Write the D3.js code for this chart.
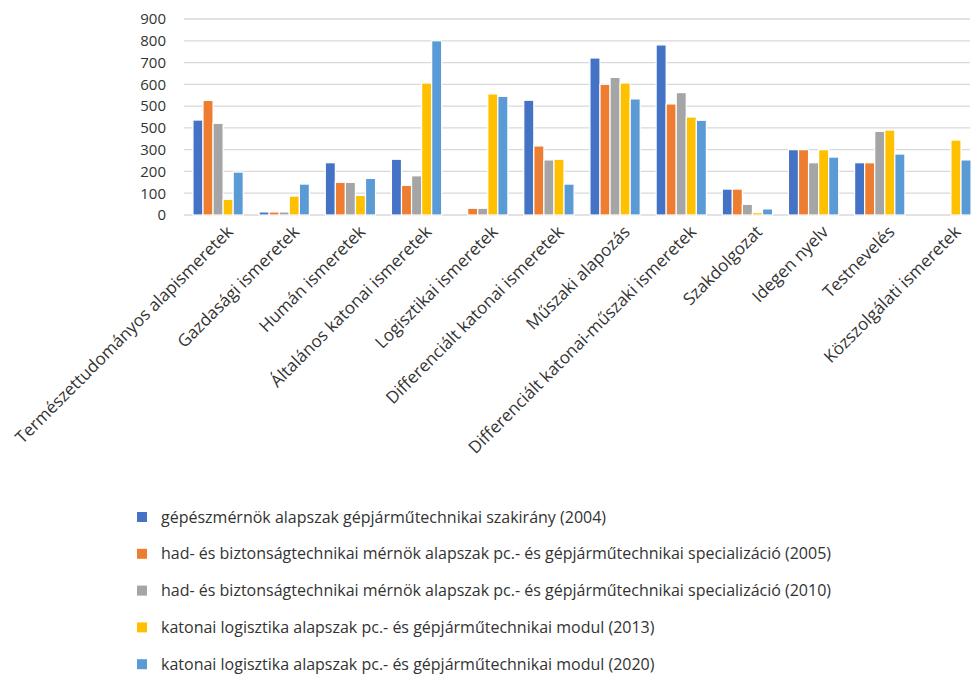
<!DOCTYPE html>
<html>
<head>
<meta charset="utf-8">
<script src="https://cdn.jsdelivr.net/npm/d3@7"></script>
<style>
  body { margin: 0; background: #fff; }
  svg text { font-family: "Open Sans", sans-serif; fill: #333333; }
</style>
</head>
<body>
<svg id="chart" width="972" height="674"></svg>
<script>
var categories = [
    "Természettudományos alapismeretek",
    "Gazdasági ismeretek",
    "Humán ismeretek",
    "Általános katonai ismeretek",
    "Logisztikai ismeretek",
    "Differenciált katonai ismeretek",
    "Műszaki alapozás",
    "Differenciált katonai-műszaki ismeretek",
    "Szakdolgozat",
    "Idegen nyelv",
    "Testnevelés",
    "Közszolgálati ismeretek"
];
var seriesNames = [
    "gépészmérnök alapszak gépjárműtechnikai szakirány (2004)",
    "had- és biztonságtechnikai mérnök alapszak pc.- és gépjárműtechnikai specializáció (2005)",
    "had- és biztonságtechnikai mérnök alapszak pc.- és gépjárműtechnikai specializáció (2010)",
    "katonai logisztika alapszak pc.- és gépjárműtechnikai modul (2013)",
    "katonai logisztika alapszak pc.- és gépjárműtechnikai modul (2020)"
];
var colors = ["#4472c4", "#ed7d31", "#a5a5a5", "#ffc000", "#5b9bd5"];

var s2004 = [436, 14, 240, 256, 0, 527, 721, 781, 119, 300, 240, 0];
var s2005 = [526, 14, 150, 136, 31, 317, 600, 510, 119, 300, 240, 0];
var s2010 = [421, 14, 150, 180, 31, 253, 632, 562, 49, 240, 384, 0];
var s2013 = [72, 87, 90, 606, 556, 256, 606, 450, 11, 300, 390, 344];
var s2020 = [197, 142, 168, 800, 545, 142, 533, 435, 28, 266, 280, 253];
var seriesValues = [s2004, s2005, s2010, s2013, s2020];

// tick labels as printed on the original (the 400 line is labelled 500)
var tickValues = [0, 100, 200, 300, 400, 500, 600, 700, 800, 900];
var tickLabels = ["0", "100", "200", "300", "500", "500", "600", "700", "800", "900"];

var svg = d3.select("#chart");
var plotLeft = 184, plotRight = 970, plotTop = 19, plotBottom = 215;

var x = d3.scaleBand().domain(categories).range([plotLeft + 1, plotRight + 9]).paddingInner(0.24).paddingOuter(0.12);
var xs = d3.scaleBand().domain(d3.range(seriesNames.length)).range([0, x.bandwidth()]);
var y = d3.scaleLinear().domain([0, 900]).range([plotBottom, plotTop]);

// gridlines
svg.append("g").selectAll("line").data(tickValues).enter().append("line")
    .attr("x1", plotLeft).attr("x2", plotRight)
    .attr("y1", function(d) { return y(d); }).attr("y2", function(d) { return y(d); })
    .style("stroke", "#d9d9d9").style("stroke-width", "1.3px");

// y axis labels
var yAxis = d3.axisLeft(y).tickValues(tickValues).tickSize(0).tickPadding(0)
    .tickFormat(function(d, i) { return tickLabels[i]; });
var yg = svg.append("g").attr("transform", "translate(166,0)").call(yAxis);
yg.select(".domain").remove();
yg.selectAll("text").style("font-size", "15px").style("fill", "#333333").style("font-family", "Open Sans");

// bars (zero values are left out, like the empty slots in the original)
var groups = svg.append("g").selectAll("g").data(seriesValues).enter().append("g")
    .style("fill", function(d, i) { return colors[i]; });
groups.each(function(vals, si) {
    var pts = vals.map(function(v, ci) { return {cat: categories[ci], v: v}; })
        .filter(function(d) { return d.v > 0; });
    d3.select(this).selectAll("rect").data(pts).enter().append("rect")
        .attr("x", function(d) { return x(d.cat) + xs(si); })
        .attr("width", xs.bandwidth())
        .attr("y", function(d) { return y(d.v); })
        .attr("height", function(d) { return y(0) - y(d.v); })
        .style("stroke", "#ffffff")
        .style("stroke-width", "1.2px");
});

// category labels
var xAxis = d3.axisBottom(x).tickSize(0).tickPadding(0);
var xg = svg.append("g").attr("transform", "translate(0," + plotBottom + ")").call(xAxis);
xg.select(".domain").remove();
xg.selectAll("text")
    .style("font-size", "17px").style("fill", "#333333").style("font-family", "Open Sans")
    .attr("text-anchor", "end")
    .attr("dy", null).attr("y", 0)
    .attr("transform", "translate(16,18) rotate(-45)");

// legend
var legend = svg.append("g").selectAll("g").data(seriesNames).enter().append("g")
    .attr("transform", function(d, i) { return "translate(137," + (517 + i * 36.8) + ")"; });
legend.append("rect").attr("x", 0).attr("y", -5).attr("width", 10).attr("height", 10)
    .style("fill", function(d, i) { return colors[i]; });
legend.append("text").attr("x", 24).attr("y", 5.5)
    .style("font-size", "16px")
    .text(function(d) { return d; });
</script>
</body>
</html>
